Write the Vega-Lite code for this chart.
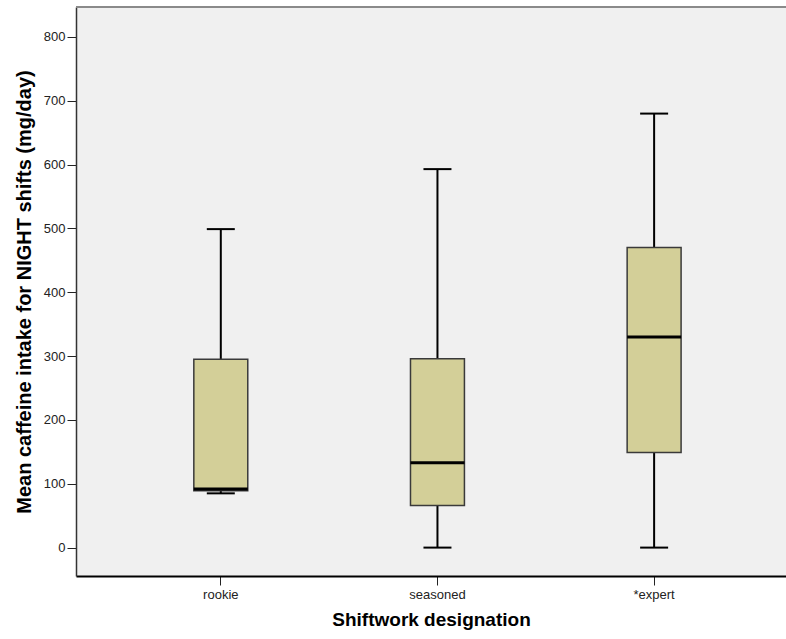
{
  "$schema": "https://vega.github.io/schema/vega-lite/v6.json",
  "autosize": {"type": "none"},
  "padding": {"left": 76, "top": 7, "right": 0, "bottom": 63},
  "width": 710,
  "height": 569,
  "background": "white",
  "config": {
    "view": {"fill": "#f0f0f0", "stroke": null},
    "font": "Liberation Sans"
  },
  "data": {
    "values": [
      {"group": "rookie", "min": 85, "q1": 89, "median": 92, "q3": 295, "max": 499},
      {"group": "seasoned", "min": 0, "q1": 66, "median": 133, "q3": 296, "max": 593},
      {"group": "*expert", "min": 0, "q1": 149, "median": 330, "q3": 470, "max": 680}
    ]
  },
  "layer": [
    {
      "mark": {"type": "rule", "color": "#8a8a8a", "strokeWidth": 2},
      "encoding": {"y": {"datum": 847, "type": "quantitative"}}
    },
    {
      "mark": {"type": "rule", "color": "#000", "strokeWidth": 2},
      "encoding": {
        "x": {
          "field": "group",
          "type": "nominal",
          "sort": ["rookie", "seasoned", "*expert"],
          "scale": {"paddingInner": 0.751, "paddingOuter": 0.514, "align": 0.529},
          "axis": {
            "title": "Shiftwork designation",
            "titleFontSize": 19,
            "titleFontWeight": "bold",
            "titleColor": "#000",
            "titlePadding": 9,
            "labelAngle": 0,
            "labelFontSize": 13,
            "labelColor": "#222",
            "labelPadding": 3,
            "tickSize": 9,
            "tickColor": "#222",
            "domainColor": "#000",
            "domainWidth": 2,
            "grid": false
          }
        },
        "y": {
          "field": "min",
          "type": "quantitative",
          "scale": {"domain": [-44.5, 847], "nice": false, "zero": false},
          "axis": {
            "title": "Mean caffeine intake for NIGHT shifts (mg/day)",
            "titleFontSize": 20,
            "titleFontWeight": "bold",
            "titleColor": "#000",
            "titlePadding": 9,
            "values": [0, 100, 200, 300, 400, 500, 600, 700, 800],
            "labelFontSize": 13,
            "labelColor": "#222",
            "labelPadding": 2,
            "tickSize": 9,
            "tickColor": "#222",
            "domainColor": "#333",
            "domainWidth": 1.5,
            "grid": false
          }
        },
        "y2": {"field": "q1"}
      }
    },
    {
      "mark": {"type": "rule", "color": "#000", "strokeWidth": 2},
      "encoding": {
        "x": {"field": "group", "type": "nominal", "sort": ["rookie", "seasoned", "*expert"]},
        "y": {"field": "q3", "type": "quantitative"},
        "y2": {"field": "max"}
      }
    },
    {
      "mark": {"type": "tick", "color": "#000", "thickness": 2, "size": 28, "opacity": 1},
      "encoding": {
        "x": {"field": "group", "type": "nominal", "sort": ["rookie", "seasoned", "*expert"]},
        "y": {"field": "min", "type": "quantitative"}
      }
    },
    {
      "mark": {"type": "tick", "color": "#000", "thickness": 2, "size": 28, "opacity": 1},
      "encoding": {
        "x": {"field": "group", "type": "nominal", "sort": ["rookie", "seasoned", "*expert"]},
        "y": {"field": "max", "type": "quantitative"}
      }
    },
    {
      "mark": {"type": "bar", "fill": "#d3cf98", "stroke": "#3a3a3a", "strokeWidth": 1.5, "width": {"band": 1}},
      "encoding": {
        "x": {"field": "group", "type": "nominal", "sort": ["rookie", "seasoned", "*expert"]},
        "y": {"field": "q1", "type": "quantitative"},
        "y2": {"field": "q3"}
      }
    },
    {
      "mark": {"type": "tick", "color": "#000", "thickness": 3, "size": 54, "opacity": 1},
      "encoding": {
        "x": {"field": "group", "type": "nominal", "sort": ["rookie", "seasoned", "*expert"]},
        "y": {"field": "median", "type": "quantitative"}
      }
    }
  ]
}
